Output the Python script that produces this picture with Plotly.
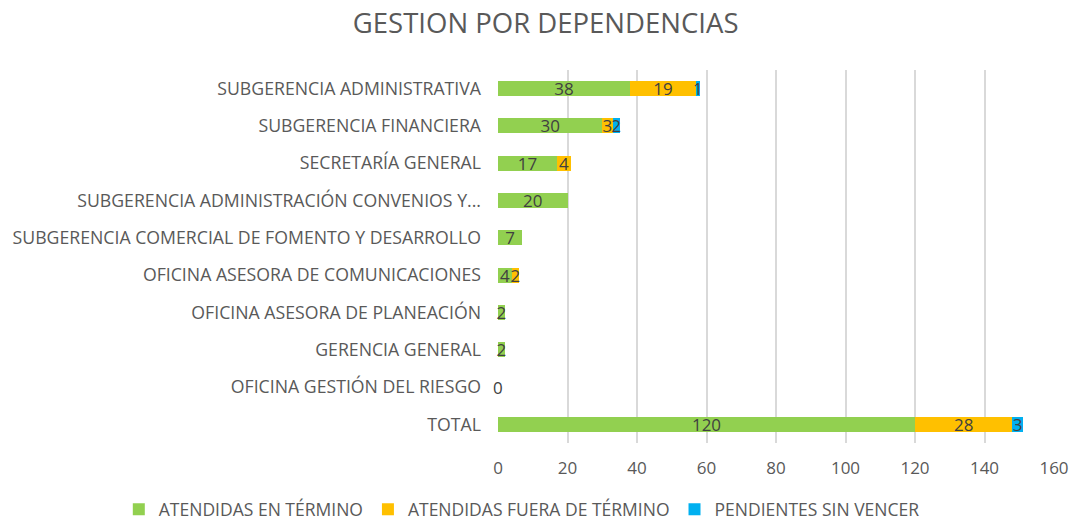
import plotly.graph_objects as go

categories = [
    "SUBGERENCIA ADMINISTRATIVA",
    "SUBGERENCIA FINANCIERA",
    "SECRETARÍA GENERAL",
    "SUBGERENCIA ADMINISTRACIÓN CONVENIOS Y...",
    "SUBGERENCIA COMERCIAL DE FOMENTO Y DESARROLLO",
    "OFICINA ASESORA DE COMUNICACIONES",
    "OFICINA ASESORA DE PLANEACIÓN",
    "GERENCIA GENERAL",
    "OFICINA GESTIÓN DEL RIESGO",
    "TOTAL",
]
en_termino = [38, 30, 17, 20, 7, 4, 2, 2, 0, 120]
fuera_termino = [19, 3, 4, None, None, 2, None, None, None, 28]
pendientes = [1, 2, None, None, None, None, None, None, None, 3]

series = [
    ("ATENDIDAS EN TÉRMINO", en_termino, "#92D050"),
    ("ATENDIDAS FUERA DE TÉRMINO", fuera_termino, "#FFC000"),
    ("PENDIENTES SIN VENCER", pendientes, "#00B0F0"),
]

FONT = "Open Sans"
GRAY = "#595959"
LABEL = "#404040"

fig = go.Figure()
for name, vals, color in series:
    fig.add_trace(go.Bar(
        y=categories, x=vals, name=name, orientation="h",
        marker=dict(color=color, line=dict(width=0)),
        text=["" if (v is None or v == 0) else str(v) for v in vals],
        textposition="inside", insidetextanchor="middle", textangle=0,
        constraintext="none", cliponaxis=False,
        textfont=dict(family=FONT, size=17, color=LABEL),
    ))

# zero-valued labels (drawn at their data position)
for cat, v in zip(categories, en_termino):
    if v == 0:
        fig.add_annotation(x=v, y=cat, text=str(v), showarrow=False,
                           xanchor="center", yanchor="middle",
                           font=dict(family=FONT, size=17, color=LABEL))

fig.update_layout(
    barmode="stack",
    bargap=0.6,
    width=1072, height=523,
    paper_bgcolor="white", plot_bgcolor="white",
    margin=dict(l=498, r=18, t=70, b=80, autoexpand=False),
    title=dict(text="GESTION POR DEPENDENCIAS", x=0.509, xanchor="center",
               y=0.955, yanchor="middle", xref="container",
               font=dict(family=FONT, size=27.5, color=GRAY)),
    font=dict(family=FONT, color=GRAY),
    xaxis=dict(range=[0, 160], dtick=20, showgrid=True, gridcolor="#D9D9D9",
               gridwidth=2, zeroline=False, showline=False,
               tickfont=dict(family=FONT, size=17, color=GRAY), ticks="",
               ticklabelstandoff=13),
    yaxis=dict(autorange="reversed", showgrid=False, showline=False,
               tickfont=dict(family=FONT, size=17.7, color=GRAY), ticks="",
               automargin=False, ticklabelstandoff=16),
    legend=dict(orientation="h", xref="paper", yref="paper",
                x=-0.682, xanchor="left", y=-0.178, yanchor="middle",
                font=dict(family=FONT, size=17.5, color=GRAY),
                traceorder="normal"),
    showlegend=True,
)

fig.write_html("out.html", config={"displayModeBar": False},
               post_script="document.body.style.margin='0';")
